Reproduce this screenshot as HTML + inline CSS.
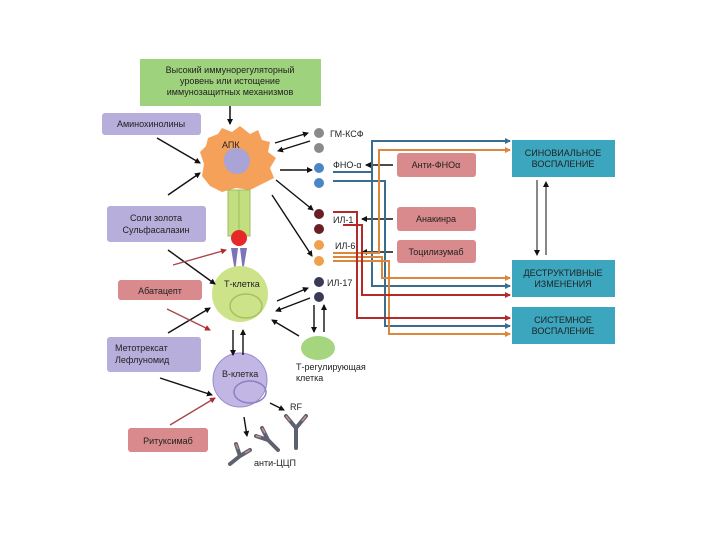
<!DOCTYPE html>
<html><head><meta charset="utf-8"><style>
body{margin:0;background:#fff;}
svg{display:block}
text{font-family:"Liberation Sans","DejaVu Sans",sans-serif;font-size:9px;fill:#222}
</style></head><body>
<svg width="720" height="540" viewBox="0 0 720 540" xmlns="http://www.w3.org/2000/svg">
<defs>
<marker id="a" markerWidth="6" markerHeight="6" refX="5" refY="3" orient="auto" markerUnits="userSpaceOnUse"><path d="M0,0 L6,3 L0,6z" fill="#111"/></marker>
<marker id="ab" markerWidth="6" markerHeight="6" refX="5" refY="3" orient="auto" markerUnits="userSpaceOnUse"><path d="M0,0 L6,3 L0,6z" fill="#3b6e8e"/></marker>
<marker id="ao" markerWidth="6" markerHeight="6" refX="5" refY="3" orient="auto" markerUnits="userSpaceOnUse"><path d="M0,0 L6,3 L0,6z" fill="#d9883e"/></marker>
<marker id="ar" markerWidth="6" markerHeight="6" refX="5" refY="3" orient="auto" markerUnits="userSpaceOnUse"><path d="M0,0 L6,3 L0,6z" fill="#b22a2a"/></marker>
</defs>
<rect x="140" y="59" width="181" height="47" fill="#9fd27c"/>
<text x="230" y="73" text-anchor="middle">Высокий иммунорегуляторный</text>
<text x="230" y="84" text-anchor="middle">уровень или истощение</text>
<text x="230" y="95" text-anchor="middle">иммунозащитных механизмов</text>
<line x1="230" y1="106" x2="230" y2="124" stroke="#111" stroke-width="1.5" marker-end="url(#a)"/>
<rect x="102" y="113" width="99" height="22" rx="3" fill="#b7aedb"/>
<text x="151" y="127" text-anchor="middle">Аминохинолины</text>
<rect x="107" y="206" width="99" height="36" rx="3" fill="#b7aedb"/>
<text x="156" y="221" text-anchor="middle">Соли золота</text>
<text x="156" y="233" text-anchor="middle">Сульфасалазин</text>
<rect x="118" y="280" width="84" height="20" rx="3" fill="#d98a8c"/>
<text x="160" y="294" text-anchor="middle">Абатацепт</text>
<rect x="107" y="337" width="94" height="35" rx="3" fill="#b7aedb"/>
<text x="115" y="351">Метотрексат</text>
<text x="115" y="363">Лефлуномид</text>
<rect x="128" y="428" width="80" height="24" rx="3" fill="#d98a8c"/>
<text x="168" y="444" text-anchor="middle">Ритуксимаб</text>
<path d="M208,138 L218,134 L222,128 L232,132 L240,126 L250,134 L258,130 L262,140 L270,142 L268,152 L276,158 L270,168 L274,178 L262,184 L250,190 L236,188 L222,192 L210,186 L202,176 L204,164 L200,152 L206,146z" fill="#f5a15a"/>
<path d="M224,160 Q224,148 238,148 Q250,150 250,162 Q248,174 236,174 Q224,172 224,160z" fill="#a9a3d6"/>
<text x="222" y="148" font-size="8">АПК</text>
<rect x="228" y="190" width="11" height="46" fill="#c3de7e" stroke="#9bbf5c" stroke-width="1"/>
<rect x="239" y="190" width="11" height="46" fill="#c3de7e" stroke="#9bbf5c" stroke-width="1"/>
<circle cx="239" cy="238" r="8" fill="#e52828"/>
<path d="M231,248 L238,248 L235,272z M240,248 L247,248 L243,272z" fill="#7c73b8"/>
<circle cx="240" cy="294" r="28" fill="#cde38a"/>
<ellipse cx="246" cy="306" rx="16" ry="12" fill="none" stroke="#a7c160" stroke-width="1.5"/>
<text x="224" y="287">Т-клетка</text>
<circle cx="240" cy="380" r="27" fill="#c2b7e4" stroke="#9a8ccc"/>
<ellipse cx="250" cy="392" rx="16" ry="11" fill="none" stroke="#8d7fc2" stroke-width="1.5"/>
<text x="222" y="377">В-клетка</text>
<ellipse cx="318" cy="348" rx="17" ry="12" fill="#a6d57f"/>
<text x="296" y="370">Т-регулирующая</text>
<text x="296" y="381">клетка</text>
<g stroke="#111" stroke-width="1.4" fill="none">
<line x1="157" y1="138" x2="200" y2="163" marker-end="url(#a)"/>
<line x1="168" y1="195" x2="200" y2="173" marker-end="url(#a)"/>
<line x1="168" y1="250" x2="215" y2="284" marker-end="url(#a)"/>
<line x1="168" y1="333" x2="210" y2="308" marker-end="url(#a)"/>
<line x1="160" y1="378" x2="212" y2="395" marker-end="url(#a)"/>
<line x1="275" y1="143" x2="308" y2="133" marker-end="url(#a)"/>
<line x1="310" y1="141" x2="278" y2="151" marker-end="url(#a)"/>
<line x1="280" y1="170" x2="312" y2="170" marker-end="url(#a)"/>
<line x1="276" y1="180" x2="313" y2="210" marker-end="url(#a)"/>
<line x1="272" y1="195" x2="312" y2="256" marker-end="url(#a)"/>
<line x1="277" y1="301" x2="308" y2="288" marker-end="url(#a)"/>
<line x1="310" y1="298" x2="276" y2="311" marker-end="url(#a)"/>
<line x1="299" y1="336" x2="272" y2="320" marker-end="url(#a)"/>
<line x1="233" y1="330" x2="233" y2="355" marker-end="url(#a)"/>
<line x1="243" y1="355" x2="243" y2="330" marker-end="url(#a)"/>
<line x1="314" y1="305" x2="314" y2="332" marker-end="url(#a)"/>
<line x1="324" y1="332" x2="324" y2="305" marker-end="url(#a)"/>
<line x1="270" y1="403" x2="284" y2="410" marker-end="url(#a)"/>
<line x1="244" y1="417" x2="247" y2="436" marker-end="url(#a)"/>
<line x1="393" y1="165" x2="366" y2="165" marker-end="url(#a)"/>
<line x1="393" y1="219" x2="362" y2="219" marker-end="url(#a)"/>
<line x1="393" y1="252" x2="362" y2="252" marker-end="url(#a)"/>
<line x1="537" y1="180" x2="537" y2="255" stroke-width="1" marker-end="url(#a)"/>
<line x1="546" y1="255" x2="546" y2="182" stroke-width="1" marker-end="url(#a)"/>
</g>
<g stroke="#a8474e" stroke-width="1.4">
<line x1="167" y1="309" x2="210" y2="330" marker-end="url(#ar)"/>
<line x1="173" y1="265" x2="226" y2="250" marker-end="url(#ar)"/>
<line x1="170" y1="425" x2="215" y2="398" marker-end="url(#ar)"/>
</g>
<circle cx="319" cy="133" r="5" fill="#8a8a8a"/><circle cx="319" cy="148" r="5" fill="#8a8a8a"/>
<circle cx="319" cy="168" r="5" fill="#4a86c6"/><circle cx="319" cy="183" r="5" fill="#4a86c6"/>
<circle cx="319" cy="214" r="5" fill="#6a1f22"/><circle cx="319" cy="229" r="5" fill="#6a1f22"/>
<circle cx="319" cy="245" r="5" fill="#f0a04e"/><circle cx="319" cy="261" r="5" fill="#f0a04e"/>
<circle cx="319" cy="282" r="5" fill="#383a58"/><circle cx="319" cy="297" r="5" fill="#383a58"/>
<text x="330" y="137">ГМ-КСФ</text>
<text x="333" y="168">ФНО-α</text>
<text x="333" y="223">ИЛ-1</text>
<text x="335" y="249">ИЛ-6</text>
<text x="327" y="286">ИЛ-17</text>
<g fill="none" stroke-width="2">
<path d="M333,172 H372 V141 H510" stroke="#3b6e8e" marker-end="url(#ab)"/>
<path d="M372,172 V286 H510" stroke="#3b6e8e" marker-end="url(#ab)"/>
<path d="M333,181 H385 V326 H510" stroke="#3b6e8e" marker-end="url(#ab)"/>
<path d="M333,253 H379 V150 H510" stroke="#d9883e" marker-end="url(#ao)"/>
<path d="M333,257 H382 V278 H510" stroke="#d9883e" marker-end="url(#ao)"/>
<path d="M333,261 H389 V334 H510" stroke="#d9883e" marker-end="url(#ao)"/>
<path d="M333,212 H357 V318 H510" stroke="#b22a2a" marker-end="url(#ar)"/>
<path d="M343,225 H362 V295 H510" stroke="#b22a2a" marker-end="url(#ar)"/>
</g>
<rect x="397" y="153" width="79" height="24" rx="3" fill="#d98a8c"/>
<text x="436" y="168" text-anchor="middle">Анти-ФНОα</text>
<rect x="397" y="207" width="79" height="24" rx="3" fill="#d98a8c"/>
<text x="436" y="222" text-anchor="middle">Анакинра</text>
<rect x="397" y="240" width="79" height="23" rx="3" fill="#d98a8c"/>
<text x="436" y="255" text-anchor="middle">Тоцилизумаб</text>
<rect x="512" y="140" width="103" height="37" fill="#3ba6be"/>
<text x="563" y="156" text-anchor="middle" font-size="8.5">СИНОВИАЛЬНОЕ</text>
<text x="563" y="167" text-anchor="middle" font-size="8.5">ВОСПАЛЕНИЕ</text>
<rect x="512" y="260" width="103" height="37" fill="#3ba6be"/>
<text x="563" y="276" text-anchor="middle" font-size="8.5">ДЕСТРУКТИВНЫЕ</text>
<text x="563" y="287" text-anchor="middle" font-size="8.5">ИЗМЕНЕНИЯ</text>
<rect x="512" y="307" width="103" height="37" fill="#3ba6be"/>
<text x="563" y="323" text-anchor="middle" font-size="8.5">СИСТЕМНОЕ</text>
<text x="563" y="334" text-anchor="middle" font-size="8.5">ВОСПАЛЕНИЕ</text>
<g stroke="#5d6170" stroke-width="4" fill="none" stroke-linecap="round">
<path d="M296,428 V448 M296,428 L286,416 M296,428 L306,416"/>
<path d="M268,440 L278,450 M268,440 L262,428 M268,440 L256,436"/>
<path d="M240,456 L230,464 M240,456 L236,444 M240,456 L250,450"/>
</g>
<g stroke="#c89090" stroke-width="1.5" fill="none">
<path d="M286,416 L290,421 M306,416 L302,421 M262,428 L265,433 M256,436 L261,437 M236,444 L238,449 M250,450 L245,453"/>
</g>
<text x="290" y="410">RF</text>
<text x="254" y="466">анти-ЦЦП</text>
</svg>
</body></html>
